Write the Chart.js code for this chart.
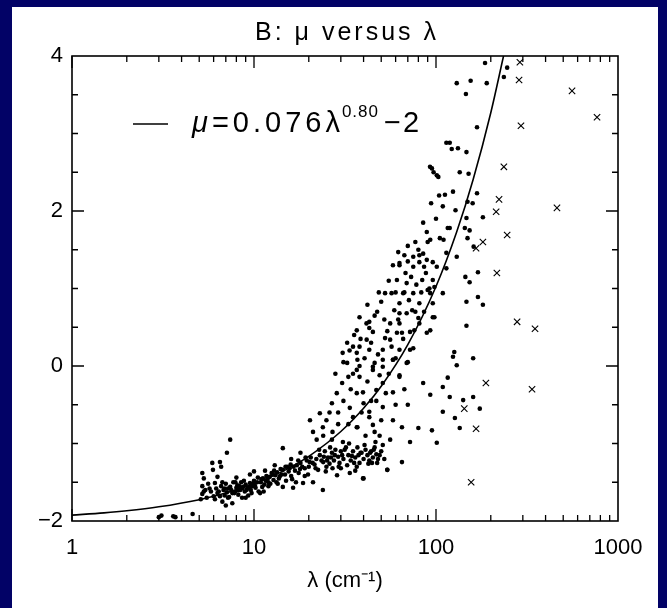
<!DOCTYPE html>
<html>
<head>
<meta charset="utf-8">
<script src="https://cdn.jsdelivr.net/npm/chart.js@4.4.1/dist/chart.umd.min.js"></script>
<style>
  html, body { margin: 0; padding: 0; background: #020266; width: 667px; height: 608px; overflow: hidden; }
  #panel { position: absolute; left: 12px; top: 7px; width: 646px; height: 601px; background: #fff; }
</style>
</head>
<body>
<div id="panel"><canvas id="chart" width="646" height="601"></canvas></div>
<script>
// axis labels
const xTickValues = [1, 10, 100, 1000];
const yTickValues = [-2, 0, 2, 4];

// fitted curve mu = 0.076 lambda^0.80 - 2
const curveLambda = [1, 1.5, 2, 3, 5, 7, 10, 15, 20, 30, 40, 50, 70, 100, 130, 160, 200, 235];
const curveMu = [-1.924, -1.895, -1.868, -1.817, -1.725, -1.640, -1.520, -1.337, -1.165, -0.845, -0.546, -0.262, 0.275, 1.026, 1.732, 2.406, 3.268, 4.0];

// low dense branch [lambda, mu]
const bandDots = [
  [3.0,-1.95],[3.1,-1.93],[3.6,-1.94],[3.7,-1.95],[4.6,-1.91],
  [5.1,-1.72],[5.2,-1.65],[5.2,-1.55],[5.3,-1.45],[5.2,-1.38],[5.4,-1.6],[5.5,-1.7],[5.6,-1.52],[5.8,-1.62],[6.0,-1.68],[6.2,-1.58],
  [5.9,-1.25],[5.95,-1.34],[6.1,-1.51],[6.3,-1.43],[6.5,-1.24],[6.6,-1.3],[7.1,-1.12],[7.4,-0.95],
  [6.4,-1.62],[6.6,-1.55],[6.7,-1.75],[6.8,-1.6],[6.9,-1.67],[7.0,-1.52],[7.1,-1.63],[7.2,-1.58],[7.3,-1.69],[7.4,-1.56],
  [7.5,-1.6],[7.6,-1.77],[7.7,-1.5],[7.8,-1.64],[8.0,-1.57],[8.1,-1.54],[8.2,-1.66],[8.4,-1.6],[8.5,-1.5],[8.6,-1.7],
  [8.7,-1.56],[8.9,-1.62],[9.0,-1.53],[9.2,-1.58],[9.3,-1.67],[9.5,-1.51],[9.6,-1.6],[9.8,-1.55],[10.0,-1.48],[10.2,-1.57],
  [10.4,-1.5],[10.6,-1.62],[10.8,-1.64],[11.0,-1.46],[11.2,-1.45],[11.4,-1.53],[11.7,-1.42],[12.0,-1.5],[12.2,-1.43],[12.5,-1.38],
  [12.8,-1.47],[13.1,-1.41],[13.4,-1.37],[13.7,-1.45],[14.0,-1.33],[14.4,-1.34],[14.4,-1.56],[14.8,-1.4],[15.2,-1.3],[15.7,-1.32],
  [16.0,-1.42],[16.4,-1.57],[16.8,-1.35],[17.2,-1.28],[17.6,-1.38],[18.0,-1.25],[18.6,-1.51],[19.0,-1.32],[19.5,-1.22],[20.0,-1.3],
  [21.1,-1.5],[20.5,-1.18],[21.5,-1.27],[22.0,-1.2],[22.5,-1.34],[23.0,-1.15],[23.9,-1.6],[24.0,-1.24],[24.5,-1.1],[25.0,-1.3],
  [25.5,-1.18],[26.0,-1.26],[26.8,-1.12],[27.5,-1.22],[28.0,-1.08],[28.6,-1.41],[29.0,-1.17],[29.5,-1.25],[30.0,-1.1],[31.0,-1.2],
  [32.0,-1.05],[33.0,-1.15],[33.6,-1.38],[34.0,-1.22],[35.0,-1.1],[36.0,-1.18],[37.0,-1.05],[38.0,-1.25],[39.0,-1.12],[39.7,-1.45],
  [40.0,-1.2],[41.0,-1.08],[42.0,-1.15],[43.0,-1.22],[44.0,-1.1],[45.0,-1.18],[46.0,-1.05],[47.0,-1.14],[48.0,-1.2],[50.0,-1.1],
  [51.0,-1.02],[54.0,-1.34],[40.0,-1.45],[36.7,-1.3],
  [9.5,-1.4],[11.5,-1.35],[13.0,-1.28],[14.4,-1.06],[16.0,-1.2],[18.0,-1.12],[10.0,-1.36],[8.0,-1.44],[12.0,-1.55],[15.0,-1.48],
  [17.0,-1.5],[19.0,-1.42],[7.9,-1.62],[8.3,-1.55],[9.1,-1.6],[9.9,-1.52],[10.9,-1.5],[11.9,-1.45],[12.7,-1.4],[13.9,-1.42],
  [15.5,-1.36],[17.9,-1.33],[21.0,-1.25],[23.5,-1.22],[26.5,-1.18],[30.5,-1.15],[34.5,-1.16],[38.5,-1.12],[43.5,-1.12],[32.5,-1.28],
  [27.0,-1.32],[44.5,-1.25],
  [5.3,-1.62],[5.7,-1.58],[6.1,-1.72],[6.3,-1.64],[6.5,-1.68],[6.7,-1.5],[6.9,-1.58],[7.2,-1.7],[7.6,-1.64],[7.9,-1.5],
  [8.2,-1.6],[8.6,-1.58],[8.8,-1.48],[9.4,-1.56],[9.7,-1.64],[10.1,-1.54],[10.5,-1.44],[11.1,-1.56],[11.6,-1.48],[12.3,-1.52],
  [12.9,-1.35],[13.3,-1.5],[14.2,-1.4],[14.9,-1.3],[15.9,-1.27],[16.5,-1.3],[17.5,-1.22],[18.4,-1.3],[19.2,-1.18],[20.2,-1.24],
  [21.8,-1.32],[22.8,-1.08],[24.2,-1.17],[25.2,-1.22],[26.2,-1.05],[27.8,-1.15],[29.2,-1.3],[31.5,-1.08],[33.3,-1.0],[35.5,-1.25],
  [37.5,-1.15],[40.5,-1.02],[42.5,-1.26],[45.5,-1.08],[47.5,-1.25],[49.0,-1.15],[52.0,-1.2],[46.5,-0.98],[30.0,-1.32],[36.0,-1.35],
  [24.8,-1.36],[19.8,-1.4],[16.2,-1.46],[13.5,-1.52],[11.3,-1.62],[9.0,-1.7],[7.0,-1.8]
];

// upper branch around and above the curve
const upperDots = [
  [22.1,-0.95],[23.9,-0.79],[21.1,-0.85],[20.3,-0.7],[23.0,-0.61],[26.8,-0.48],[28.5,-0.35],[30.5,-0.22],[32.5,0.04],[36.7,0.17],
  [39.7,-0.34],[33.6,-0.54],[43.0,-0.59],[45.0,-0.76],[36.7,-0.79],[51.0,-0.22],[51.0,-0.01],[30.8,-0.98],[26.8,-0.95],[25.0,-0.7],
  [27.0,-0.85],[29.0,-0.6],[31.0,-0.45],[34.0,-0.3],[35.0,-0.1],[38.0,0.0],[42.0,-0.2],[47.0,-0.45],[49.0,-0.9],
  [42.0,0.79],[50.0,0.83],[47.5,0.70],[59.0,0.72],[69.0,0.68],[96.0,0.63],[38.0,0.63],[43.0,0.57],[56.0,0.55],[63.0,0.55],
  [81.0,0.55],[36.7,0.46],[45.0,0.44],[61.0,0.43],[72.0,0.44],[93.0,0.46],[41.6,0.34],[52.5,0.36],[32.5,0.30],[38.0,0.25],
  [63.0,0.21],[75.0,0.23],[30.7,0.17],[46.0,0.04],[51.0,0.08],[58.0,0.08],[69.0,0.04],[36.7,-0.05],[45.0,-0.05],[63.0,-0.12],
  [33.0,-0.14],[52.5,0.94],[57.0,0.94],[66.0,0.94],[93.0,0.94],[63.0,0.81],[81.0,0.81],[96.0,0.81],[61.0,1.11],[69.0,1.07],
  [84.0,1.11],[96.0,1.11],[62.0,1.47],[75.0,1.41],[81.0,1.34],[96.0,1.34],[63.0,1.33],[75.0,1.28],[86.0,1.28],[101.0,1.28],
  [43.0,0.49],[56.0,0.34],[65.0,0.43],[76.0,0.46],[89.0,0.43],[35.0,0.25],[43.0,0.21],[51.0,0.21],[72.0,0.21],[37.0,0.08],
  [45.0,-0.01],[58.0,0.08],[70.0,0.05],[38.0,-0.14],[49.0,-0.12],[63.0,-0.14],[36.7,-0.35],[47.0,-0.31],[58.0,-0.34],[40.0,-0.48],
  [51.0,-0.53],[35.0,-0.66],[43.0,-0.66],[50.0,-0.70],[37.0,-0.79],[65.0,-0.79],[80.0,-0.80],[95.0,-0.83],[72.0,-0.98],[56.0,-0.95],
  [101.0,-0.99],[65.0,-1.24],[54.0,-1.34],[85.0,-0.22],[93.0,-0.37],[67.0,0.95],[75.0,0.94],[90.0,0.98],[98.0,1.02],[109.0,0.94],
  [74.0,0.72],[80.0,0.62],[98.0,0.63],[63.0,0.68],[63.0,1.30],
  [81.0,1.43],[89.0,1.37],[67.0,1.43],[114.0,1.46],[130.0,1.41],[89.0,1.73],[93.0,1.63],[110.0,1.63],[119.0,1.78],[144.0,1.78],
  [153.0,1.75],[149.0,1.65],[161.0,1.54],[109.0,2.06],[128.0,2.01],[149.0,2.12],[159.0,2.10],[168.0,2.23],[181.0,1.92],[147.0,1.91],
  [112.0,2.21],[124.0,2.25],[135.0,2.50],[151.0,2.48],[119.0,2.88],[122.0,2.80],[132.0,2.81],[147.0,2.76],[168.0,3.08],[146.0,3.51],
  [130.0,3.65],[155.0,3.68],[190.0,3.65],[186.0,3.91],[246.0,3.85],[236.0,3.73],[92.7,2.57],[95.0,2.55],[97.0,2.50],[101.0,2.46],
  [103.0,2.44],[114.0,2.88],[116.0,1.78],[105.0,1.65],[90.0,1.60],[80.0,1.50],[85.0,1.45],[70.0,1.35],
  [28.0,-0.1],[31.0,0.05],[33.5,0.2],[35.5,0.4],[38.5,0.35],[40.5,0.1],[41.5,0.55],[44.0,0.3],[46.0,0.65],[48.0,0.15],
  [48.5,0.95],[52.0,0.6],[54.0,0.45],[55.0,1.1],[57.0,0.25],[60.0,0.95],[60.0,0.1],[62.0,0.6],[66.0,0.35],[68.0,1.2],
  [71.0,0.85],[73.0,1.15],[77.0,0.7],[78.0,1.05],[83.0,0.95],[86.0,0.7],[88.0,1.2],[92.0,1.0],[44.0,-0.45],[53.0,-0.35],
  [55.0,-0.1],[60.0,-0.5],[67.0,-0.3],[39.0,-0.6],[33.0,-0.75],[41.0,-0.9],[46.0,-0.85],[29.0,-0.75],[26.0,-0.6],[24.0,-0.9],
  [58.0,-0.7],[70.0,-0.5],[58.0,1.3],[70.0,1.55],[77.0,1.6],[85.0,1.85],[100.0,1.9],[104.0,2.2],[94.0,2.1]
];

// scattered points right of the curve
const outerDots = [
  [114.0,1.26],[145.0,1.15],[170.0,1.21],[153.0,1.08],[147.0,0.83],[170.0,0.89],[181.0,0.79],[147.0,0.52],[124.0,0.12],[126.0,0.18],
  [130.0,0.01],[160.0,0.10],[116.0,-0.15],[109.0,-0.27],[119.0,-0.40],[141.0,-0.44],[160.0,-0.40],[109.0,-0.59],[174.0,-0.55],
  [127.0,-0.67],[135.0,-0.80]
];

// points drawn as crosses
const crossDots = [
  [289,3.92],[286,3.69],[559,3.55],[767,3.21],[293,3.10],[236,2.57],[222,2.15],[214,1.99],[462,2.04],[246,1.69],
  [181,1.60],[166,1.52],[216,1.20],[279,0.57],[350,0.48],[337,-0.30],[188,-0.22],[143,-0.55],[166,-0.81],[156,-1.50]
];

const toXY = p => ({ x: p[0], y: p[1] });
const FONT = '"Liberation Sans", Arial, Helvetica, sans-serif';

// box frame with inward ticks on all four sides
const framePlugin = {
  id: 'frame',
  afterDatasetsDraw(chart) {
    const { ctx, chartArea: a, scales: { x, y } } = chart;
    ctx.save();
    ctx.strokeStyle = '#000';
    ctx.lineWidth = 1.6;
    ctx.strokeRect(a.left, a.top, a.right - a.left, a.bottom - a.top);
    ctx.lineWidth = 1.3;
    ctx.beginPath();
    for (let d = 1; d < 1000; d *= 10) {
      for (let k = 1; k < 10; k++) {
        const px = x.getPixelForValue(d * k);
        const len = k === 1 ? 12 : 6;
        ctx.moveTo(px, a.bottom); ctx.lineTo(px, a.bottom - len);
        ctx.moveTo(px, a.top); ctx.lineTo(px, a.top + len);
      }
    }
    for (let v = -1.5; v < 4; v += 0.5) {
      const py = y.getPixelForValue(v);
      const len = v % 2 === 0 ? 12 : 6;
      ctx.moveTo(a.left, py); ctx.lineTo(a.left + len, py);
      ctx.moveTo(a.right, py); ctx.lineTo(a.right - len, py);
    }
    ctx.stroke();
    ctx.restore();
  }
};

// title and the in-plot legend for the fitted line
const textPlugin = {
  id: 'texts',
  afterDraw(chart) {
    const { ctx, chartArea: a } = chart;
    ctx.save();
    ctx.fillStyle = '#000';
    ctx.textBaseline = 'alphabetic';
    ctx.textAlign = 'center';
    ctx.letterSpacing = '3px';
    ctx.font = '25px ' + FONT;
    ctx.fillText('B: \u03bc versus \u03bb', (a.left + a.right) / 2 + 2, 33);

    // legend
    ctx.strokeStyle = '#000';
    ctx.lineWidth = 1.6;
    ctx.beginPath();
    ctx.moveTo(121, 117);
    ctx.lineTo(156, 117);
    ctx.stroke();
    ctx.textAlign = 'left';
    ctx.letterSpacing = '4px';
    ctx.font = 'italic 29px ' + FONT;
    let xPos = 180;
    ctx.fillText('\u03bc', xPos, 125);
    xPos += ctx.measureText('\u03bc').width;
    ctx.font = '29px ' + FONT;
    ctx.fillText('=0.076\u03bb', xPos, 125);
    xPos += ctx.measureText('=0.076\u03bb').width - 2;
    ctx.letterSpacing = '1px';
    ctx.font = '17px ' + FONT;
    ctx.fillText('0.80', xPos, 110);
    xPos += ctx.measureText('0.80').width + 5;
    ctx.letterSpacing = '2px';
    ctx.font = '29px ' + FONT;
    ctx.fillText('\u22122', xPos, 125);
    ctx.restore();
  }
};

new Chart(document.getElementById('chart'), {
  data: {
    datasets: [
      {
        type: 'scatter',
        data: bandDots.concat(upperDots, outerDots).map(toXY),
        pointRadius: 2.3,
        pointBackgroundColor: '#000',
        pointBorderWidth: 0
      },
      {
        type: 'scatter',
        data: crossDots.map(toXY),
        pointStyle: 'crossRot',
        pointRadius: 4.5,
        pointBorderColor: '#000',
        pointBorderWidth: 1.1
      },
      {
        type: 'line',
        data: curveLambda.map((l, i) => ({ x: l, y: curveMu[i] })),
        borderColor: '#000',
        borderWidth: 1.6,
        pointRadius: 0,
        cubicInterpolationMode: 'monotone',
        fill: false
      }
    ]
  },
  options: {
    responsive: false,
    animation: false,
    events: [],
    layout: { padding: { left: 0, right: 40, top: 49, bottom: 0 } },
    plugins: { legend: { display: false }, tooltip: { enabled: false } },
    scales: {
      x: {
        type: 'logarithmic',
        min: 1,
        max: 1000,
        grid: { display: false, drawTicks: false },
        border: { display: false },
        afterBuildTicks: s => { s.ticks = xTickValues.map(v => ({ value: v })); },
        afterFit: s => { s.height = 87; },
        ticks: {
          color: '#000',
          font: { family: FONT, size: 22 },
          padding: 14,
          maxRotation: 0,
          autoSkip: false,
          callback: v => String(v)
        },
        title: {
          display: true,
          text: '\u03bb (cm\u207b\u00b9)',
          color: '#000',
          font: { family: FONT, size: 22 },
          padding: { top: 0, bottom: 14 }
        }
      },
      y: {
        type: 'linear',
        min: -2,
        max: 4,
        grid: { display: false, drawTicks: false },
        border: { display: false },
        afterBuildTicks: s => { s.ticks = yTickValues.map(v => ({ value: v })); },
        afterFit: s => { s.width = 60; },
        ticks: {
          color: '#000',
          font: { family: FONT, size: 22 },
          padding: 9,
          callback: v => (v < 0 ? '\u2212' + Math.abs(v) : String(v))
        }
      }
    }
  },
  plugins: [framePlugin, textPlugin]
});
</script>
</body>
</html>
